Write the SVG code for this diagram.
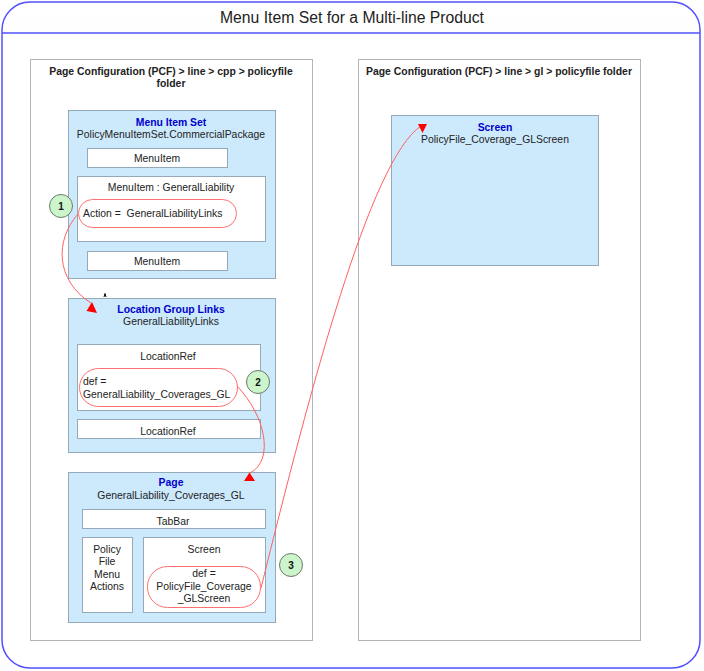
<svg xmlns="http://www.w3.org/2000/svg" width="704" height="671" viewBox="0 0 704 671">
<defs>
<linearGradient id="hdr" x1="0" y1="0" x2="0" y2="1">
<stop offset="0" stop-color="#ffffff"/>
<stop offset="1" stop-color="#ececdf"/>
</linearGradient>
<clipPath id="hclip"><rect x="2" y="2" width="698" height="31"/></clipPath>
</defs>
<style>
text{font-family:"Liberation Sans",Arial,sans-serif;font-size:10.4px;fill:#222}
.c{text-anchor:middle}
.b{font-weight:bold}
.t{font-weight:bold;fill:#0000cc}
.panel{fill:#fff;stroke:#b4b4b4;stroke-width:1}
.box{fill:#cdeafd;stroke:#95a9b8;stroke-width:1}
.wb{fill:#fff;stroke:#95a9b8;stroke-width:1}
.oval{fill:none;stroke:#ff7070;stroke-width:1}
.num{fill:#ccf5cc;stroke:#6a7a6a;stroke-width:1}
.numt{font-weight:bold;font-size:10px;text-anchor:middle;fill:#111}
.con{fill:none;stroke:#ff6060;stroke-width:1}
.ah{fill:#ff0000;stroke:none}
</style>
<g id="frame">
<rect x="2" y="2" width="698" height="666" rx="28" fill="#fff"/>
<rect x="2" y="2" width="698" height="666" rx="28" fill="url(#hdr)" clip-path="url(#hclip)"/>
<line x1="2" y1="33" x2="700" y2="33" stroke="#5050ff" stroke-width="1.5"/>
<rect x="2" y="2" width="698" height="666" rx="28" fill="none" stroke="#5050ff" stroke-width="1.5"/>
<text x="352" y="23" class="c" style="font-size:16px" textLength="264" lengthAdjust="spacingAndGlyphs">Menu Item Set for a Multi-line Product</text>
</g>
<g id="panel-cpp">
<rect class="panel" x="30.5" y="59.5" width="282" height="581"/>
<text x="171" y="75" class="c b">Page Configuration (PCF) &gt; line &gt; cpp &gt; policyfile</text>
<text x="171" y="87" class="c b">folder</text>
</g>
<g id="panel-gl">
<rect class="panel" x="358.5" y="59.5" width="282" height="581"/>
<text x="499" y="75" class="c b">Page Configuration (PCF) &gt; line &gt; gl &gt; policyfile folder</text>
</g>
<g id="menu-item-set">
<rect class="box" x="68.5" y="110.5" width="207" height="168"/>
<text x="171" y="126" class="c t">Menu Item Set</text>
<text x="171" y="138" class="c">PolicyMenuItemSet.CommercialPackage</text>
<rect class="wb" x="87.5" y="148.5" width="140" height="19"/>
<text x="157" y="162" class="c">MenuItem</text>
<rect class="wb" x="77.5" y="176.5" width="188" height="65"/>
<text x="171" y="191" class="c">MenuItem : GeneralLiability</text>
<rect class="oval" x="78.5" y="199.5" width="158" height="28" rx="14"/>
<text x="83" y="217" xml:space="preserve">Action =  GeneralLiabilityLinks</text>
<rect class="wb" x="87.5" y="251.5" width="140" height="19"/>
<text x="157" y="265" class="c">MenuItem</text>
</g>
<g id="location-group-links">
<rect class="box" x="68.5" y="298.5" width="207" height="154"/>
<text x="171" y="313" class="c t">Location Group Links</text>
<text x="171" y="325" class="c">GeneralLiabilityLinks</text>
<rect class="wb" x="77.5" y="344.5" width="183" height="66"/>
<text x="168" y="360" class="c">LocationRef</text>
<rect class="oval" x="79.5" y="368.5" width="158" height="38" rx="19"/>
<text x="83" y="385">def =</text>
<text x="83" y="398">GeneralLiability_Coverages_GL</text>
<rect class="wb" x="77.5" y="419.5" width="183" height="19"/>
<text x="168" y="435" class="c">LocationRef</text>
</g>
<g id="page">
<rect class="box" x="68.5" y="472.5" width="207" height="150"/>
<text x="171" y="486" class="c t">Page</text>
<text x="171" y="499" class="c">GeneralLiability_Coverages_GL</text>
<rect class="wb" x="82.5" y="509.5" width="183" height="19"/>
<text x="173" y="525" class="c">TabBar</text>
<rect class="wb" x="82.5" y="537.5" width="50" height="75"/>
<text x="107" y="553" class="c">Policy</text>
<text x="107" y="565" class="c">File</text>
<text x="107" y="578" class="c">Menu</text>
<text x="107" y="590" class="c">Actions</text>
<rect class="wb" x="143.5" y="537.5" width="122" height="75"/>
<text x="204" y="553" class="c">Screen</text>
<rect class="oval" x="147.5" y="566.5" width="113" height="41" rx="20"/>
<text x="204" y="577" class="c">def =</text>
<text x="204" y="590" class="c">PolicyFile_Coverage</text>
<text x="204" y="602" class="c">_GLScreen</text>
</g>
<g id="screen">
<rect class="box" x="391.5" y="115.5" width="207" height="150"/>
<text x="495" y="131" class="c t">Screen</text>
<text x="495" y="143" class="c">PolicyFile_Coverage_GLScreen</text>
</g>
<g id="step-1"><circle class="num" cx="61" cy="206" r="11.5"/><text x="61" y="210" class="numt">1</text></g>
<g id="step-2"><circle class="num" cx="258" cy="382" r="11.5"/><text x="258" y="386" class="numt">2</text></g>
<g id="step-3"><circle class="num" cx="291" cy="565" r="11.5"/><text x="291" y="569" class="numt">3</text></g>
<g id="connectors">
<path class="con" d="M78,214 C55,240 55,280 91,303"/>
<polygon class="ah" points="92,302 86.5,311 97,313"/>
<path d="M104,297 L105,293.5 L106,297" fill="none" stroke="#000" stroke-width="1"/>
<path class="con" d="M237,386 C265,415 275,460 250,473"/>
<polygon class="ah" points="249.5,472.5 244,481 255,481"/>
<path class="con" d="M261,588 C310,390 370,160 421,126"/>
<polygon class="ah" points="418,124 427,124 422.5,133"/>
</g>
</svg>
